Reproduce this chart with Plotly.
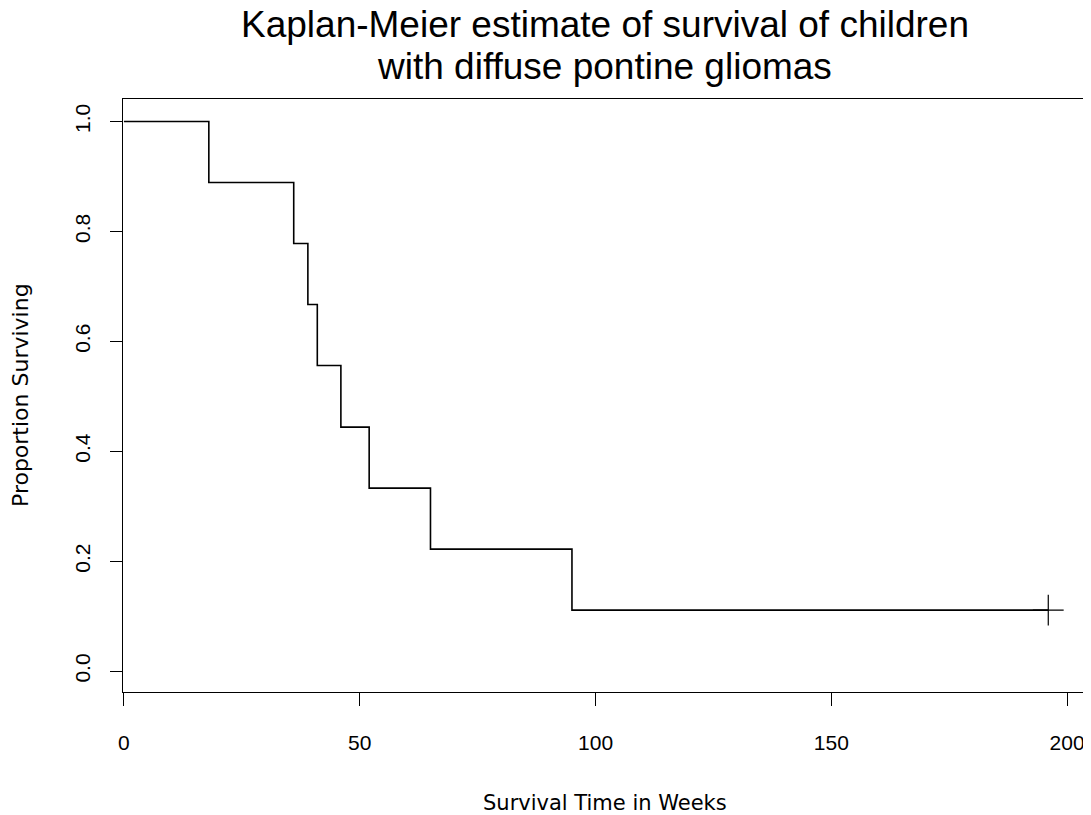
import plotly.graph_objects as go

# Kaplan-Meier step data (weeks, proportion surviving)
event_times = [0, 18, 36, 39, 41, 46, 52, 65, 95, 196]
survival = [1.0, 0.889, 0.778, 0.667, 0.556, 0.444, 0.333, 0.222, 0.111, 0.111]
censor_times = [196]
censor_surv = [0.111]

x_ticks = [0, 50, 100, 150, 200]
y_ticks = [0.0, 0.2, 0.4, 0.6, 0.8, 1.0]
y_tick_text = ["0.0", "0.2", "0.4", "0.6", "0.8", "1.0"]

title_line1 = "Kaplan-Meier estimate of survival of children"
title_line2 = "with diffuse pontine gliomas"
x_title = "Survival Time in Weeks"
y_title = "Proportion Surviving"

fig = go.Figure()
fig.add_trace(go.Scatter(
    x=event_times, y=survival, mode="lines",
    line=dict(color="black", width=1.6, shape="hv"),
    showlegend=False, hoverinfo="skip"))
fig.add_trace(go.Scatter(
    x=censor_times, y=censor_surv, mode="markers",
    marker=dict(symbol="cross-thin", size=22, line=dict(color="black", width=1.2)),
    showlegend=False, hoverinfo="skip"))

tick_font = dict(family="Liberation Sans, Arial, sans-serif", size=21, color="black")
title_font = dict(family="DejaVu Sans, sans-serif", size=21, color="black")
main_font = dict(family="Liberation Sans, Arial, sans-serif", size=37, color="black")

# page has an 8px body margin, so the figure is sized/offset accordingly
fig.update_layout(
    width=1083, height=807,
    margin=dict(l=115, r=5, t=91, b=123, autoexpand=False),
    paper_bgcolor="white", plot_bgcolor="white",
    xaxis=dict(
        range=[-0.2, 204], tickvals=x_ticks, ticks="outside", ticklen=13,
        tickcolor="black", tickwidth=1, showline=True, mirror=True,
        linecolor="black", linewidth=1, showgrid=False, zeroline=False,
        tickfont=tick_font, ticklabelstandoff=19, automargin=False),
    yaxis=dict(
        range=[-0.038, 1.041], tickvals=y_ticks, ticktext=y_tick_text,
        ticks="outside", ticklen=12, tickcolor="black", tickwidth=1,
        showline=True, mirror=True, linecolor="black", linewidth=1,
        showgrid=False, zeroline=False, tickangle=-90,
        tickfont=tick_font, ticklabelstandoff=12, automargin=False),
    annotations=[
        dict(text=title_line1, x=0.5, y=(692 - 24) / 593, xref="paper", yref="paper",
             xanchor="center", yanchor="middle", showarrow=False, font=main_font),
        dict(text=title_line2, x=0.5, y=(692 - 66) / 593, xref="paper", yref="paper",
             xanchor="center", yanchor="middle", showarrow=False, font=main_font),
        dict(text=x_title, x=0.5, y=(692 - 803) / 593, xref="paper", yref="paper",
             xanchor="center", yanchor="middle", showarrow=False, font=title_font),
        dict(text=y_title, x=(20 - 123) / 963, y=(692 - 395) / 593, xref="paper", yref="paper",
             xanchor="center", yanchor="middle", textangle=-90, showarrow=False,
             font=dict(family="DejaVu Sans, sans-serif", size=22, color="black")),
    ],
)

fig.write_html("out.html")
